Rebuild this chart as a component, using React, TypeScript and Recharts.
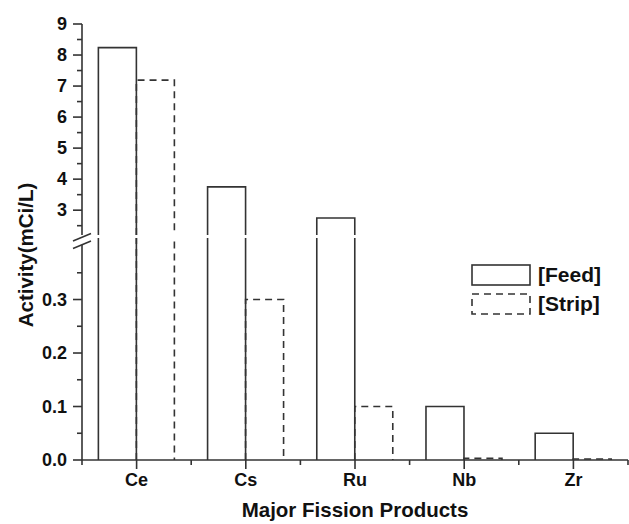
import React from 'react';
import { BarChart, Bar, XAxis, YAxis, Legend } from 'recharts';

// values
const categories = ['Ce', 'Cs', 'Ru', 'Nb', 'Zr'];
const feedValues = [8.24, 3.75, 2.75, 0.1, 0.05];
const stripValues = [7.19, 0.3, 0.1, 0.003, 0.002];
const seriesNames = ['[Feed]', '[Strip]'];

// broken y axis: upper panel and lower panel
const upperDomain = [2.2, 9];
const upperTicks = [2.5, 3, 3.5, 4, 4.5, 5, 5.5, 6, 6.5, 7, 7.5, 8, 8.5, 9];
const lowerDomain = [0, 0.415];
const lowerTicks = [0, 0.05, 0.1, 0.15, 0.2, 0.25, 0.3, 0.35];

const data = categories.map((name, i) => ({ name, feed: feedValues[i], strip: stripValues[i] }));

const W = 629;
const H = 524;
const AXIS_X = 82;
const AXIS_Y = 460;
const UPPER_BOTTOM = 235;
const LOWER_TOP = 238;
const INK = '#333';
const TEXT = '#111';
const FONT = '"Liberation Sans", Arial, Helvetica, sans-serif';
const DASH = '7 5';

// bar drawn as open box (left, top, right) like the original plot
function OpenBar(props: any) {
  const { x, y, width, height, value, floor, dashed } = props;
  const v = Array.isArray(value) ? value[1] : value;
  if (v == null || v <= floor) return null;
  const top = Math.min(y, y + height);
  const bottom = Math.max(y, y + height);
  const d = `M${x},${bottom}L${x},${top}L${x + width},${top}L${x + width},${bottom}`;
  return (
    <path d={d} fill="none" stroke={INK} strokeWidth={1.6} strokeDasharray={dashed ? DASH : undefined} />
  );
}

function makeYTick(step: number, digits: number) {
  return (props: any) => {
    const { y, payload } = props;
    const v = payload.value;
    const major = Math.abs(v / step - Math.round(v / step)) < 1e-6;
    return (
      <g>
        <line x1={AXIS_X - (major ? 9 : 5)} x2={AXIS_X} y1={y} y2={y} stroke={INK} strokeWidth={1.6} />
        {major && (
          <text x={AXIS_X - 15} y={y} dy="0.35em" textAnchor="end" fill={TEXT}
            style={{ fontFamily: FONT, fontSize: 18, fontWeight: 'bold' }}>
            {v.toFixed(digits)}
          </text>
        )}
      </g>
    );
  };
}

const upperTick = makeYTick(1, 0);
const lowerTick = makeYTick(0.1, 1);

function XTick(props: any) {
  const { x, payload, index } = props;
  const bw = (W - 1 - AXIS_X) / categories.length;
  return (
    <g>
      <line x1={x} x2={x} y1={AXIS_Y} y2={AXIS_Y + 9} stroke={INK} strokeWidth={1.6} />
      <line x1={x - bw / 2} x2={x - bw / 2} y1={AXIS_Y} y2={AXIS_Y + 5} stroke={INK} strokeWidth={1.6} />
      {index === categories.length - 1 && (
        <line x1={x + bw / 2} x2={x + bw / 2} y1={AXIS_Y} y2={AXIS_Y + 5} stroke={INK} strokeWidth={1.6} />
      )}
      <text x={x} y={AXIS_Y + 13} dy="0.71em" textAnchor="middle" fill={TEXT}
        style={{ fontFamily: FONT, fontSize: 18, fontWeight: 'bold' }}>
        {payload.value}
      </text>
    </g>
  );
}

function LegendContent(props: any) {
  const items = props.payload || [];
  return (
    <div style={{ fontFamily: FONT }}>
      {items.map((e: any) => (
        <div key={e.value} style={{ display: 'flex', alignItems: 'center', height: 29 }}>
          <svg width={60} height={22} style={{ display: 'block' }}>
            <rect x={1} y={1} width={58} height={20} fill="none" stroke={INK} strokeWidth={1.6}
              strokeDasharray={e.dataKey === 'strip' ? '7 5' : undefined} />
          </svg>
          <span style={{ marginLeft: 7, fontSize: 21, fontWeight: 'bold', color: TEXT, lineHeight: '22px' }}>
            {e.value}
          </span>
        </div>
      ))}
    </div>
  );
}

export default function App() {
  return (
    <div style={{ position: 'absolute', left: 0, top: 0, width: W, height: H, background: '#fff' }}>
      {/* upper part of the broken axis */}
      <div style={{ position: 'absolute', left: 0, top: 0 }}>
        <BarChart width={W} height={H} data={data} barCategoryGap="15%" barGap={0}
          margin={{ top: 24, right: 1, bottom: H - UPPER_BOTTOM, left: 0 }}>
          <XAxis dataKey="name" hide height={0} />
          <YAxis domain={upperDomain} ticks={upperTicks} allowDataOverflow width={AXIS_X} interval={0}
            tick={upperTick} tickLine={false} axisLine={{ stroke: INK, strokeWidth: 1.6 }} />
          <Bar dataKey="feed" name={seriesNames[0]} isAnimationActive={false}
            shape={(p: any) => <OpenBar {...p} floor={upperDomain[0]} />} />
          <Bar dataKey="strip" name={seriesNames[1]} isAnimationActive={false}
            shape={(p: any) => <OpenBar {...p} floor={upperDomain[0]} dashed />} />
        </BarChart>
      </div>

      {/* lower part */}
      <div style={{ position: 'absolute', left: 0, top: 0 }}>
        <BarChart width={W} height={H} data={data} barCategoryGap="15%" barGap={0}
          margin={{ top: LOWER_TOP, right: 1, bottom: 0, left: 0 }}>
          <XAxis dataKey="name" height={H - AXIS_Y} interval={0} tick={XTick} tickLine={false}
            axisLine={{ stroke: INK, strokeWidth: 1.6 }}
            label={{ value: 'Major Fission Products', position: 'insideBottom', offset: 7,
              style: { fontFamily: FONT, fontSize: 20.5, fontWeight: 'bold', fill: TEXT } }} />
          <YAxis domain={lowerDomain} ticks={lowerTicks} allowDataOverflow width={AXIS_X} interval={0}
            tick={lowerTick} tickLine={false} axisLine={{ stroke: INK, strokeWidth: 1.6 }} />
          <Legend layout="vertical" align="center" verticalAlign="middle" content={LegendContent}
            wrapperStyle={{ left: 471, top: 260, width: 'auto', height: 'auto' }} />
          <Bar dataKey="feed" name={seriesNames[0]} isAnimationActive={false}
            shape={(p: any) => <OpenBar {...p} floor={-1} />} />
          <Bar dataKey="strip" name={seriesNames[1]} isAnimationActive={false}
            shape={(p: any) => <OpenBar {...p} floor={-1} dashed />} />
        </BarChart>
      </div>

      {/* axis title and break marks */}
      <svg width={W} height={H} style={{ position: 'absolute', left: 0, top: 0, pointerEvents: 'none' }}>
        <text transform="translate(26,255) rotate(-90)" textAnchor="middle" dy="0.35em" fill={TEXT}
          style={{ fontFamily: FONT, fontSize: 20.5, fontWeight: 'bold' }}>
          Activity(mCi/L)
        </text>
        <polygon points="73,241 91,233.5 91,241 73,248.5" fill="#fff" />
        <line x1={73} y1={241} x2={91} y2={233.5} stroke={INK} strokeWidth={1.5} />
        <line x1={73} y1={248.5} x2={91} y2={241} stroke={INK} strokeWidth={1.5} />
      </svg>
    </div>
  );
}
